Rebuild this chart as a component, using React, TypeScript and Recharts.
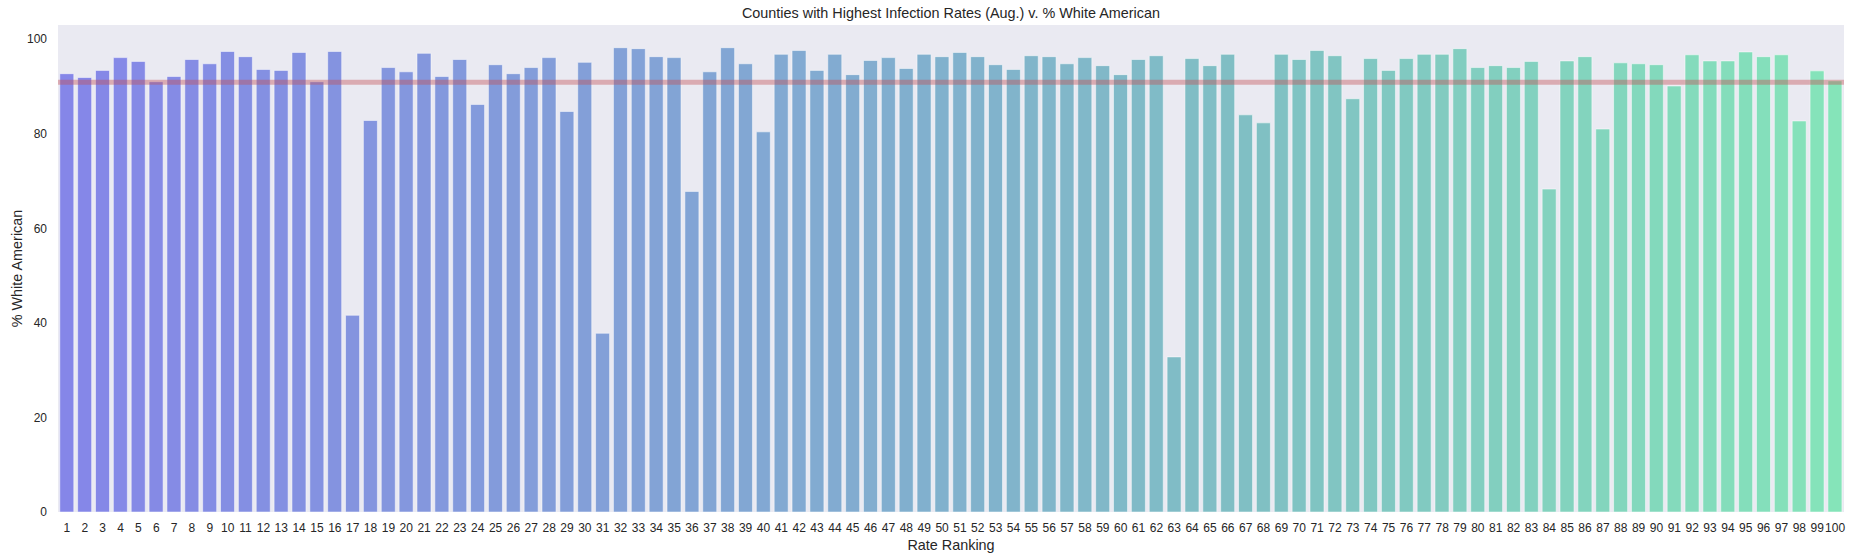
import React from "react";
import { BarChart, Bar, XAxis, YAxis, CartesianGrid, ReferenceLine, Cell, Label } from "recharts";

const ranks: string[] = [
  "1","2","3","4","5","6","7","8","9","10",
  "11","12","13","14","15","16","17","18","19","20",
  "21","22","23","24","25","26","27","28","29","30",
  "31","32","33","34","35","36","37","38","39","40",
  "41","42","43","44","45","46","47","48","49","50",
  "51","52","53","54","55","56","57","58","59","60",
  "61","62","63","64","65","66","67","68","69","70",
  "71","72","73","74","75","76","77","78","79","80",
  "81","82","83","84","85","86","87","88","89","90",
  "91","92","93","94","95","96","97","98","99","100",
];

const pctWhite: number[] = [
  92.7, 91.9, 93.4, 96.1, 95.3, 91.0, 92.1, 95.7, 94.8, 97.4,
  96.3, 93.6, 93.4, 97.2, 91.0, 97.4, 41.6, 82.8, 94.0, 93.1,
  97.0, 92.1, 95.7, 86.2, 94.6, 92.7, 94.0, 96.1, 84.7, 95.1,
  37.8, 98.2, 98.0, 96.3, 96.1, 67.8, 93.1, 98.2, 94.8, 80.4,
  96.8, 97.6, 93.4, 96.8, 92.5, 95.5, 96.1, 93.8, 96.8, 96.3,
  97.2, 96.3, 94.6, 93.6, 96.5, 96.3, 94.8, 96.1, 94.4, 92.5,
  95.7, 96.5, 32.8, 95.9, 94.4, 96.8, 84.0, 82.3, 96.8, 95.7,
  97.6, 96.5, 87.4, 95.9, 93.4, 95.9, 96.8, 96.8, 98.0, 94.0,
  94.4, 94.0, 95.3, 68.3, 95.4, 96.3, 81.0, 95.0, 94.8, 94.6,
  90.1, 96.7, 95.4, 95.4, 97.3, 96.3, 96.7, 82.7, 93.3, 91.2,
];

const yTicks: number[] = [0, 20, 40, 60, 80, 100];
const averageLine = 90.9;

const data = ranks.map((r, i) => ({ rank: r, value: pctWhite[i] }));

// seaborn-like "winter" palette with saturation 0.75
function hls2rgb(h: number, l: number, s: number): [number, number, number] {
  const hue = (m1: number, m2: number, hh: number) => {
    hh = ((hh % 1) + 1) % 1;
    if (hh < 1 / 6) return m1 + (m2 - m1) * hh * 6;
    if (hh < 0.5) return m2;
    if (hh < 2 / 3) return m1 + (m2 - m1) * (2 / 3 - hh) * 6;
    return m1;
  };
  if (s === 0) return [l, l, l];
  const m2 = l <= 0.5 ? l * (1 + s) : l + s - l * s;
  const m1 = 2 * l - m2;
  return [hue(m1, m2, h + 1 / 3), hue(m1, m2, h), hue(m1, m2, h - 1 / 3)];
}
function rgb2hls(r: number, g: number, b: number): [number, number, number] {
  const maxc = Math.max(r, g, b);
  const minc = Math.min(r, g, b);
  const l = (minc + maxc) / 2;
  if (minc === maxc) return [0, l, 0];
  const s = l <= 0.5 ? (maxc - minc) / (maxc + minc) : (maxc - minc) / (2 - maxc - minc);
  const rc = (maxc - r) / (maxc - minc);
  const gc = (maxc - g) / (maxc - minc);
  const bc = (maxc - b) / (maxc - minc);
  let h: number;
  if (r === maxc) h = bc - gc;
  else if (g === maxc) h = 2 + rc - bc;
  else h = 4 + gc - rc;
  h = ((h / 6) % 1 + 1) % 1;
  return [h, l, s];
}
function barColor(i: number, n: number): string {
  const t = (i + 1) / (n + 1);
  const [h, l, s] = rgb2hls(0, t, 1 - 0.5 * t);
  const [r, g, b] = hls2rgb(h, l, s * 0.75);
  const to = (v: number) => Math.round(v * 255);
  return `rgb(${to(r)},${to(g)},${to(b)})`;
}

const FONT = "'Liberation Sans', Arial, sans-serif";
const TEXT = "#262626";

const YLabel = (props: any) => {
  const vb = props.viewBox || { x: 0, y: 25, width: 58, height: 487 };
  const cx = 16.5;
  const cy = vb.y + vb.height / 2;
  return (
    <text
      x={cx}
      y={cy}
      transform={`rotate(-90, ${cx}, ${cy})`}
      textAnchor="middle"
      dominantBaseline="central"
      fontSize={14.4}
      fontFamily={FONT}
      fill={TEXT}
    >
      % White American
    </text>
  );
};

const XLabel = (props: any) => {
  const vb = props.viewBox || { x: 58, y: 512, width: 1786, height: 47 };
  const cx = vb.x + vb.width / 2;
  const cy = 545;
  return (
    <text
      x={cx}
      y={cy}
      textAnchor="middle"
      dominantBaseline="central"
      fontSize={14.4}
      fontFamily={FONT}
      fill={TEXT}
    >
      Rate Ranking
    </text>
  );
};

export default function App() {
  return (
    <div style={{ position: "absolute", left: 0, top: 0, width: 1853, height: 559, background: "#fff", fontFamily: FONT }}>
      <div
        style={{
          position: "absolute",
          left: 58,
          width: 1786,
          top: 5,
          textAlign: "center",
          fontSize: 14.4,
          lineHeight: "16px",
          color: TEXT,
          fontFamily: FONT,
        }}
      >
        Counties with Highest Infection Rates (Aug.) v. % White American
      </div>
      <BarChart
        width={1853}
        height={559}
        data={data}
        margin={{ top: 25, right: 9, left: 0, bottom: 0 }}
        barCategoryGap="10%"
      >
        <CartesianGrid fill="#EAEAF2" stroke="none" horizontal={false} vertical={false} />
        <XAxis
          dataKey="rank"
          type="category"
          interval={0}
          height={47}
          tickLine={false}
          axisLine={false}
          tickSize={0}
          tickMargin={11}
          tick={{ fontSize: 12, fill: TEXT, fontFamily: FONT }}
        >
          <Label content={<XLabel />} />
        </XAxis>
        <YAxis
          type="number"
          domain={[0, 103]}
          ticks={yTicks}
          width={58}
          tickLine={false}
          axisLine={false}
          tickSize={0}
          tickMargin={11}
          allowDataOverflow
          tick={{ fontSize: 12, fill: TEXT, fontFamily: FONT }}
        >
          <Label content={<YLabel />} />
        </YAxis>
        <Bar dataKey="value" isAnimationActive={false} fillOpacity={0.5} stroke="#ffffff" strokeOpacity={0.5} strokeWidth={1}>
          {data.map((d, i) => (
            <Cell key={d.rank} fill={barColor(i, data.length)} />
          ))}
        </Bar>
        <ReferenceLine y={averageLine} stroke="#C44E52" strokeOpacity={0.4} strokeWidth={5} ifOverflow="extendDomain" />
      </BarChart>
    </div>
  );
}
